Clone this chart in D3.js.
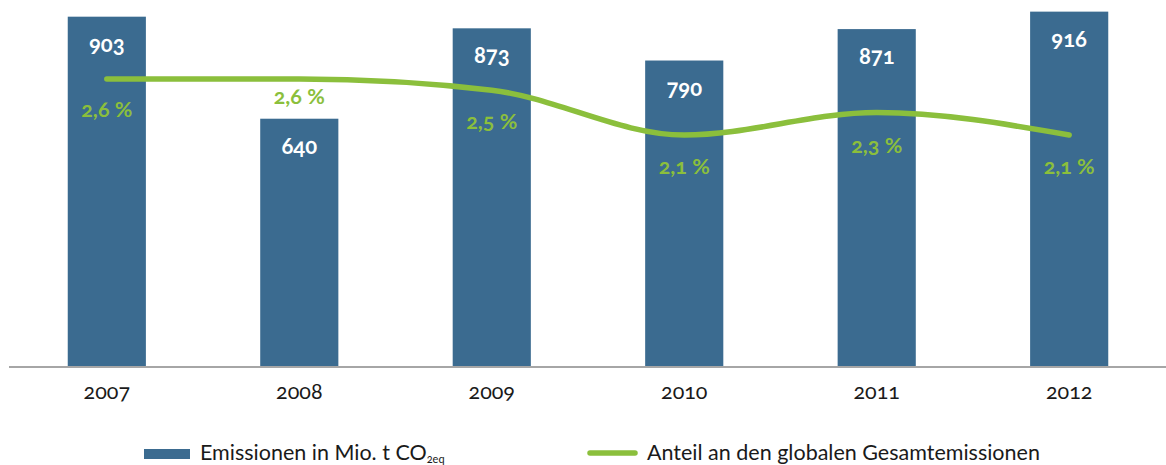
<!DOCTYPE html>
<html>
<head>
<meta charset="utf-8">
<script src="https://cdn.jsdelivr.net/npm/d3@7"></script>
<style>
  body { margin: 0; background: #fff; }
  svg { display: block; font-family: Lato, "Open Sans", sans-serif; font-feature-settings: "onum" 1; }
</style>
</head>
<body>
<script>
var width = 1166;
var height = 465;

var years = ["2007", "2008", "2009", "2010", "2011", "2012"];
var emissions = [903, 640, 873, 790, 871, 916];
var share = [2.6, 2.6, 2.5, 2.1, 2.3, 2.1];
var shareLabels = ["2,6 %", "2,6 %", "2,5 %", "2,1 %", "2,3 %", "2,1 %"];
// how far each percent label sits below the line
var shareLabelDy = [38, 25, 39, 39, 40, 39];

var barColor = "#3b6b90";
var lineColor = "#8bbf3c";

var svg = d3.select("body").append("svg")
    .attr("width", width)
    .attr("height", height);

var x = d3.scaleBand()
    .domain(years)
    .range([10, 1166])
    .paddingInner(0.594)
    .paddingOuter(0.3);

var y = d3.scaleLinear()
    .domain([0, 946])
    .range([367, 0]);

var y2 = d3.scaleLinear()
    .domain([2.1, 2.6])
    .range([135, 79]);

// bars
svg.selectAll(".bar")
    .data(emissions)
    .enter().append("rect")
    .attr("class", "bar")
    .attr("x", function(d, i) { return x(years[i]); })
    .attr("y", function(d) { return y(d); })
    .attr("width", x.bandwidth())
    .attr("height", function(d) { return y(0) - y(d); })
    .attr("fill", barColor);

// axis line
svg.append("line")
    .attr("x1", 9).attr("x2", width)
    .attr("y1", 367).attr("y2", 367)
    .attr("stroke", "#a6a6a6")
    .attr("stroke-width", 2);

// year labels
var xAxis = svg.append("g")
    .attr("transform", "translate(0,367)")
    .call(d3.axisBottom(x).tickSize(0).tickPadding(17));
xAxis.select(".domain").remove();
xAxis.selectAll("text")
    .attr("font-size", 21.5)
    .attr("font-family", "Lato, sans-serif")
    .attr("fill", "#1a1a1a");

// bar value labels
svg.selectAll(".val")
    .data(emissions)
    .enter().append("text")
    .attr("class", "val")
    .attr("x", function(d, i) { return x(years[i]) + x.bandwidth() / 2; })
    .attr("y", function(d) { return y(d) + 35; })
    .attr("text-anchor", "middle")
    .attr("font-size", 22)
    .attr("font-weight", "bold")
    .attr("fill", "#fff")
    .text(function(d) { return d; });

// share line
var line = d3.line()
    .x(function(d, i) { return x(years[i]) + x.bandwidth() / 2; })
    .y(function(d) { return y2(d); })
    .curve(d3.curveMonotoneX);

svg.append("path")
    .datum(share)
    .attr("d", line)
    .attr("fill", "none")
    .attr("stroke", lineColor)
    .attr("stroke-width", 5.5)
    .attr("stroke-linecap", "round");

svg.selectAll(".pct")
    .data(share)
    .enter().append("text")
    .attr("class", "pct")
    .attr("x", function(d, i) { return x(years[i]) + x.bandwidth() / 2; })
    .attr("y", function(d, i) { return y2(d) + shareLabelDy[i]; })
    .attr("text-anchor", "middle")
    .attr("font-size", 21.5)
    .attr("font-weight", "bold")
    .attr("fill", lineColor)
    .text(function(d, i) { return shareLabels[i]; });

// legend
var legend = svg.append("g");
legend.append("rect")
    .attr("x", 144).attr("y", 449)
    .attr("width", 46).attr("height", 10)
    .attr("fill", barColor);
var t1 = legend.append("text")
    .attr("x", 200).attr("y", 460)
    .attr("font-size", 21.5)
    .attr("fill", "#1a1a1a");
t1.append("tspan").text("Emissionen in Mio. t CO");
t1.append("tspan").attr("font-size", 11).attr("dy", 3).text("2eq");

legend.append("line")
    .attr("x1", 590).attr("x2", 635)
    .attr("y1", 453).attr("y2", 453)
    .attr("stroke", lineColor)
    .attr("stroke-width", 5.5)
    .attr("stroke-linecap", "round");
legend.append("text")
    .attr("x", 647).attr("y", 460)
    .attr("font-size", 21.5)
    .attr("fill", "#1a1a1a")
    .text("Anteil an den globalen Gesamtemissionen");
</script>
</body>
</html>
